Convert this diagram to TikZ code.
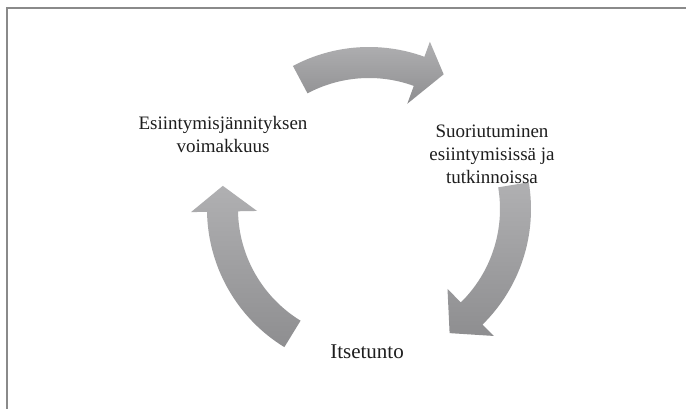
\documentclass[tikz,border=0pt]{standalone}
\usepackage{fontspec}
\setmainfont{Liberation Serif}
\definecolor{framegray}{HTML}{8A8A8A}
\definecolor{arrowlight}{HTML}{B0B0B2}
\definecolor{arrowdark}{HTML}{8E8E90}
\definecolor{labeltext}{HTML}{1E1E1E}
\tikzset{
  cyclearrow/.style={top color=arrowlight, bottom color=arrowdark, draw=none},
  cyclelabel/.style={text=labeltext, align=center, inner sep=0pt,
    font=\fontsize{19}{23}\selectfont},
}
% Curved cycle arrow: tail angle #1, wing angle #2, tip angle #3,
% tip radius #4 (runs clockwise)
\newcommand{\cyclearc}[4]{%
  \path[cyclearrow]
    (#1:162pt) arc[start angle=#1, end angle=#2, radius=162pt]
    -- (#2:178pt) -- (#3:#4) -- (#2:112pt) -- (#2:131pt)
    arc[start angle=#2, end angle=#1, radius=131pt] -- cycle;}
\begin{document}
\begin{tikzpicture}[x=1pt, y=-1pt]
  \useasboundingbox (0,0) rectangle (686,409);
  \fill[white] (0,0) rectangle (686,409);
  % frame along the top and left edges
  \draw[framegray, line width=2pt] (6.5,409) -- (6.5,8.5) -- (686,8.5);
  % the three arrows of the cycle
  \begin{scope}[shift={(369,209)}]
    \cyclearc{118}{70}{61}{154pt}
    \cyclearc{9.5}{-45.5}{-57}{148pt}
    \cyclearc{238.5}{181}{171}{148pt}
  \end{scope}
  % labels
  \node[cyclelabel] (anxiety) at (223,135) {Esiintymisjännityksen\\voimakkuus};
  \node[cyclelabel] (performance) at (492,154) {Suoriutuminen\\esiintymisissä ja\\tutkinnoissa};
  \node[cyclelabel, font=\fontsize{21}{25}\selectfont] (selfesteem) at (367,352) {Itsetunto};
\end{tikzpicture}
\end{document}
